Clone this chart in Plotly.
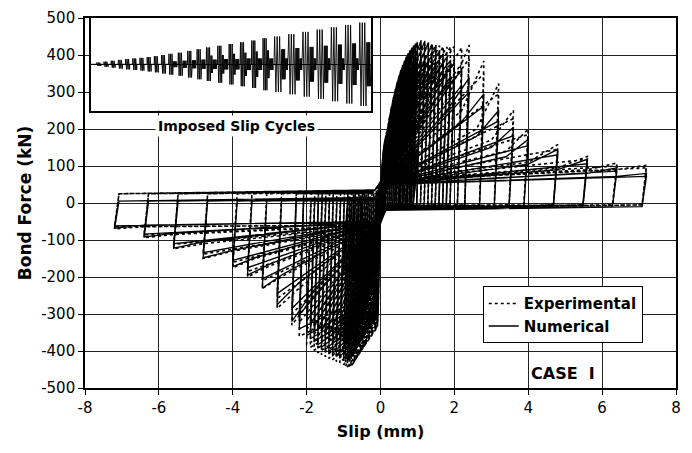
import plotly.graph_objects as go

# ---------------- data ----------------
# cycle amplitude levels (mm)
levels = [0.05, 0.1, 0.15, 0.2, 0.25, 0.3, 0.35, 0.4, 0.45, 0.5, 0.55, 0.6, 0.65, 0.7, 0.75,
          0.8, 0.85, 0.9, 0.95, 1.0, 1.1, 1.2, 1.3, 1.4, 1.5, 1.6, 1.7, 1.8, 1.9, 2.0,
          2.2, 2.4, 2.8, 3.2, 3.6, 4.0, 4.8, 5.6, 6.4, 7.2]
# slip at which the reloading branch bends, positive / negative direction (mm)
pos_knee_slip = [0.02, 0.03, 0.04, 0.05, 0.05, 0.06, 0.06, 0.07, 0.07, 0.08, 0.08, 0.09, 0.09, 0.1, 0.1,
                 0.11, 0.11, 0.12, 0.12, 0.13, 0.16, 0.2, 0.3, 0.4, 0.5, 0.6, 0.7, 0.8, 0.9, 1.0,
                 1.3, 1.8, 2.2, 2.6, 3.0, 3.4, 4.0, 4.8, 5.6, 6.4]
neg_knee_slip = [0.02, 0.03, 0.03, 0.04, 0.04, 0.05, 0.05, 0.05, 0.06, 0.06, 0.06, 0.07, 0.07, 0.07, 0.08,
                 0.08, 0.08, 0.09, 0.09, 0.1, 0.1, 0.11, 0.12, 0.13, 0.14, 0.15, 0.16, 0.17, 0.18, 0.2,
                 0.25, 1.8, 2.2, 2.6, 3.0, 3.4, 4.0, 4.8, 5.6, 6.4]

# Experimental, first cycle at each level (kN)
exp_pos_peak = [100, 140, 175, 205, 235, 260, 282, 302, 320, 336, 350, 362, 373, 383, 392,
                400, 407, 413, 418, 422, 427, 430, 432, 430, 428, 425, 423, 422, 422, 424,
                420, 427, 384, 323, 250, 200, 158, 126, 108, 102]
exp_neg_peak = [100, 140, 180, 215, 250, 280, 305, 330, 350, 370, 388, 402, 415, 425, 435,
                442, 445, 443, 440, 437, 432, 428, 424, 420, 415, 410, 405, 398, 390, 382,
                360, 330, 285, 231, 200, 175, 150, 124, 94, 70]
exp_pos_knee = [60, 80, 95, 105, 112, 118, 124, 130, 135, 140, 144, 148, 152, 156, 160,
                163, 166, 169, 172, 175, 190, 200, 215, 225, 235, 245, 255, 262, 268, 272,
                278, 280, 250, 200, 170, 140, 110, 95, 90, 90]
exp_neg_knee = [75, 105, 135, 162, 188, 210, 230, 248, 263, 278, 291, 302, 311, 319, 326,
                332, 335, 333, 331, 328, 324, 321, 318, 315, 311, 307, 303, 298, 292, 286,
                270, 250, 230, 195, 170, 150, 130, 110, 85, 64]
# Experimental, repeated cycle at each level (kN)
exp_pos_peak2 = [90, 125, 155, 180, 205, 228, 248, 265, 282, 296, 308, 320, 330, 340, 348,
                 356, 362, 368, 372, 376, 382, 385, 388, 386, 384, 382, 380, 378, 378, 380,
                 378, 390, 350, 295, 228, 185, 145, 118, 100, 95]
exp_neg_peak2 = [90, 125, 160, 190, 222, 250, 272, 295, 312, 330, 346, 358, 370, 380, 388,
                 395, 398, 396, 394, 392, 388, 384, 380, 376, 372, 368, 362, 356, 350, 342,
                 322, 300, 258, 210, 185, 160, 138, 112, 86, 64]

# Numerical, first cycle at each level (kN)
num_pos_peak = [90, 135, 172, 205, 235, 262, 286, 308, 327, 344, 360, 373, 385, 396, 405,
                413, 420, 426, 431, 435, 440, 438, 434, 428, 420, 412, 404, 395, 386, 377,
                358, 338, 295, 250, 205, 172, 145, 118, 95, 80]
num_neg_peak = [90, 135, 172, 205, 238, 265, 290, 312, 332, 350, 366, 380, 392, 402, 410,
                416, 420, 422, 422, 420, 416, 412, 407, 402, 396, 390, 383, 375, 367, 358,
                340, 320, 275, 230, 195, 172, 148, 122, 92, 68]
num_pos_knee = [55, 75, 90, 100, 108, 114, 120, 126, 131, 136, 140, 144, 148, 152, 156,
                159, 162, 165, 168, 170, 185, 195, 208, 218, 228, 236, 244, 250, 255, 258,
                258, 250, 220, 180, 150, 125, 105, 90, 80, 72]
num_neg_knee = [65, 100, 128, 152, 175, 195, 212, 228, 242, 255, 265, 275, 283, 290, 295,
                300, 303, 305, 305, 303, 300, 297, 293, 290, 285, 280, 275, 270, 265, 258,
                245, 235, 215, 190, 165, 148, 128, 105, 82, 60]
# Numerical, repeated cycle at each level (kN)
num_pos_peak2 = [80, 120, 152, 182, 208, 232, 254, 273, 290, 305, 320, 332, 342, 352, 360,
                 368, 374, 380, 384, 388, 392, 390, 386, 380, 374, 366, 358, 350, 342, 335,
                 318, 300, 262, 222, 182, 155, 130, 106, 86, 72]
num_neg_peak2 = [80, 120, 152, 182, 212, 236, 258, 278, 296, 312, 326, 338, 349, 358, 365,
                 370, 374, 376, 376, 374, 370, 366, 362, 358, 352, 347, 340, 333, 326, 318,
                 302, 285, 245, 205, 175, 155, 134, 110, 84, 62]

# small intermediate cycles on the damaged bond (mm, kN)
small_amp = [0.5, 0.6, 0.7, 0.8, 0.9, 1.0, 1.0, 1.0, 1.0, 1.0, 0.8, 0.6]
exp_small_pos = [210, 195, 185, 175, 165, 155, 145, 135, 125, 115, 100, 90]
exp_small_neg = [270, 250, 235, 220, 205, 195, 185, 175, 165, 155, 140, 125]
num_small_pos = [190, 180, 170, 160, 150, 140, 130, 120, 110, 100, 90, 80]
num_small_neg = [250, 235, 220, 205, 195, 185, 175, 165, 155, 145, 130, 115]

# friction plateau levels (kN) and force at zero slip on reloading
exp_upper, exp_lower, exp_start = 25, 5, 60
num_upper, num_lower, num_start = 5, 10, 50

# imposed slip history for the inset: amplitudes (mm), counts and step lengths
inset_big = [0.3, 0.45, 0.6, 0.75, 0.9, 1.0, 1.1, 1.25, 1.4, 1.6,
             1.8, 2.0, 2.3, 2.6, 2.9, 3.2, 3.5, 3.8, 4.1, 4.5,
             4.8, 5.2, 5.6, 6.0, 6.4, 6.8, 7.2]
inset_big_n = [6] * 10 + [3] * 10 + [3] * 7
inset_big_dt = [0.375] * 10 + [0.8] * 10 + [1.3] * 7
inset_mid = [0] * 14 + [1.5, 1.6, 1.8, 2.0, 2.2, 2.4,
                        2.6, 2.8, 3.0, 3.2, 3.4, 3.6, 3.8]
inset_mid_n = [0] * 14 + [2] * 6 + [4] * 7
inset_mid_dt = [0.5] * 27
inset_small = [0] * 10 + [0.5, 0.6, 0.7, 0.8, 0.8, 0.9, 0.9, 1.0, 1.0, 1.0,
                          1.0, 1.0, 1.0, 1.0, 1.0, 1.0, 1.0]
inset_small_n = [0] * 10 + [8] * 10 + [6] * 6 + [0]
inset_small_dt = [0.25] * 20 + [0.2] * 7
inset_pause = [3] * 10 + [1] * 10 + [0.6] * 7
inset_lead = 6

# tick labels (hyphen minus as printed)
x_ticks = [-8, -6, -4, -2, 0, 2, 4, 6, 8]
x_tick_text = ["-8", "-6", "-4", "-2", "0", "2", "4", "6", "8"]
y_ticks = [-500, -400, -300, -200, -100, 0, 100, 200, 300, 400, 500]
y_tick_text = ["-500", "-400", "-300", "-200", "-100", "0", "100", "200", "300", "400", "500"]


def loop_path(pos_peak, neg_peak, pos_knee, neg_knee, pos_peak2, neg_peak2,
              s_pos, s_neg, up, low, f0):
    xs, ys = [0.0], [0.0]

    def cycle(s, ksp, kp, p, ksn, kn, n):
        if ksp is None:
            xs.extend([0.02, s]); ys.extend([f0, p])
        else:
            xs.extend([0.02, ksp, s]); ys.extend([f0, kp, p])
        xu = max(s - 0.12, s * 0.5)
        xs.append(xu); ys.append(-low)
        if xu > 0.15:
            xs.append(0.15); ys.append(-low - 10)
        if ksn is None:
            xs.extend([-0.02, -s]); ys.extend([-f0, -n])
        else:
            xs.extend([-0.02, -ksn, -s]); ys.extend([-f0, -kn, -n])
        xs.append(-xu); ys.append(up)
        if xu > 0.15:
            xs.append(-0.15); ys.append(up + 10)

    for i, s in enumerate(levels):
        cycle(s, pos_knee_slip[i], pos_knee[i], pos_peak[i],
              neg_knee_slip[i], neg_knee[i], neg_peak[i])
        cycle(s, None, None, pos_peak2[i], None, None, neg_peak2[i])
    for s, p, n in zip(small_amp, s_pos, s_neg):
        cycle(s, None, None, p, None, None, n)
    return xs, ys


ex, ey = loop_path(exp_pos_peak, exp_neg_peak, exp_pos_knee, exp_neg_knee,
                   exp_pos_peak2, exp_neg_peak2, exp_small_pos, exp_small_neg,
                   exp_upper, exp_lower, exp_start)
nx, ny = loop_path(num_pos_peak, num_neg_peak, num_pos_knee, num_neg_knee,
                   num_pos_peak2, num_neg_peak2, num_small_pos, num_small_neg,
                   num_upper, num_lower, num_start)

# inset series
it, iv = [0.0], [0.0]
t = inset_lead
it.append(t); iv.append(0.0)
for g in range(len(inset_big)):
    for amp, cnt, dt in ((inset_big[g], inset_big_n[g], inset_big_dt[g]),
                         (inset_mid[g], inset_mid_n[g], inset_mid_dt[g]),
                         (inset_small[g], inset_small_n[g], inset_small_dt[g])):
        for _ in range(cnt):
            it.extend([t + dt * 0.5, t + dt * 1.5]); iv.extend([amp, -amp]); t += 2 * dt
    it.append(t); iv.append(0.0)
    t += inset_pause[g]
    it.append(t); iv.append(0.0)

FONT = "DejaVu Sans, Liberation Sans, Arial, sans-serif"
# the page body adds an 8 px offset; margins compensate so the plot box sits where it does
fig = go.Figure()
fig.add_trace(go.Scatter(x=ex, y=ey, mode="lines", name="Experimental",
                         line=dict(color="black", width=1.6, dash="dot")))
fig.add_trace(go.Scatter(x=nx, y=ny, mode="lines", name="Numerical",
                         line=dict(color="black", width=1.35)))
fig.add_trace(go.Scatter(x=it, y=iv, mode="lines", showlegend=False,
                         line=dict(color="black", width=0.9), xaxis="x2", yaxis="y2"))

fig.update_layout(
    width=692, height=453,
    margin=dict(l=77, r=24, t=8, b=73),
    paper_bgcolor="white", plot_bgcolor="white",
    font=dict(family=FONT, size=15, color="black"),
    xaxis=dict(range=[-8, 8], tickvals=x_ticks, ticktext=x_tick_text, automargin=False,
               showgrid=True, gridcolor="#222", gridwidth=1, tickfont=dict(size=15),
               zeroline=False, showline=True, mirror=True, linecolor="black", linewidth=1.6,
               ticks="outside", ticklen=5, tickcolor="black",
               title=dict(text="<b>Slip (mm)</b>", font=dict(size=16), standoff=10)),
    yaxis=dict(range=[-500, 500], tickvals=y_ticks, ticktext=y_tick_text, automargin=False,
               showgrid=True, gridcolor="#222", gridwidth=1, tickfont=dict(size=15),
               zeroline=False, showline=True, mirror=True, linecolor="black", linewidth=1.6,
               ticks="outside", ticklen=5, tickcolor="black",
               title=dict(text="<b>Bond Force (kN)</b>", font=dict(size=17), standoff=5)),
    xaxis2=dict(domain=[0.010, 0.484], anchor="y2", range=[0, t], showgrid=False,
                zeroline=False, showticklabels=False, ticks="", showline=True, mirror=True,
                linecolor="black", linewidth=1.5),
    yaxis2=dict(domain=[0.75, 1.0], anchor="x2", range=[-8, 8], showgrid=False,
                zeroline=True, zerolinecolor="black", zerolinewidth=1,
                showticklabels=False, ticks="", showline=True, mirror=True,
                linecolor="black", linewidth=1.5),
    legend=dict(x=0.673, y=0.275, xanchor="left", yanchor="top",
                bgcolor="white", bordercolor="black", borderwidth=1,
                font=dict(size=15, family=FONT, weight="bold"),
                tracegroupgap=0, itemwidth=30),
    shapes=[dict(type="rect", xref="paper", yref="paper", x0=0.010, x1=0.484,
                 y0=0.75, y1=1.0, fillcolor="white", line=dict(width=0), layer="between")],
    annotations=[
        dict(text="<b>Imposed Slip Cycles</b>", xref="paper", yref="paper", x=0.257, y=0.707,
             xanchor="center", yanchor="middle",
             showarrow=False, bgcolor="white", font=dict(size=14), borderpad=2),
        dict(text="<b>CASE\u00a0\u00a0I</b>", x=4.95, y=-462, xref="x", yref="y",
             xanchor="center", yanchor="middle",
             showarrow=False, font=dict(size=16)),
    ],
)

fig.write_html("out.html")
